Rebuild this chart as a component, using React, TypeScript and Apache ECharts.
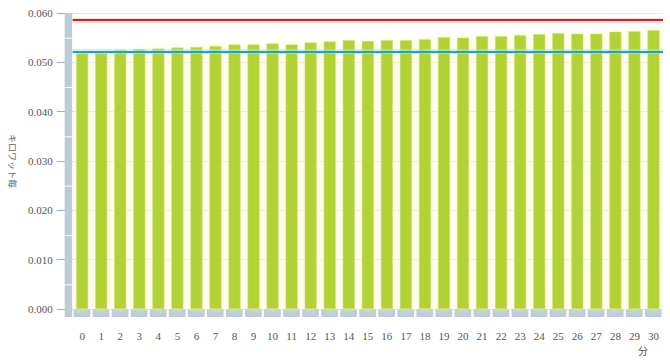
import React, { useEffect, useRef } from "react";
import * as echarts from "echarts";

const categories = Array.from({ length: 31 }, (_, i) => String(i));
const values = [
  0.0519, 0.0519, 0.0525, 0.0527, 0.0528, 0.053, 0.0531, 0.0533, 0.0536, 0.0536,
  0.0538, 0.0536, 0.054, 0.0542, 0.0545, 0.0543, 0.0545, 0.0545, 0.0547, 0.0551,
  0.055, 0.0553, 0.0553, 0.0555, 0.0557, 0.0559, 0.0558, 0.0558, 0.0562, 0.0563, 0.0565,
];
const upperLimit = 0.0586;
const lowerLimit = 0.0522;
const wallBounds = [0.06, 0.055, 0.045, 0.035, 0.025, 0.015, 0.005, 0];
const yName = "キロワット毎";
const xName = "分";

export default function App() {
  const ref = useRef<HTMLDivElement>(null);
  useEffect(() => {
    document.body.style.margin = "0";
    const chart = echarts.init(ref.current!, null, { renderer: "svg" });
    const wallData = wallBounds.slice(0, -1).map((b, i) => [0, b, wallBounds[i + 1], i]);
    const floorData = categories.map((c, i) => [i, 0]);
    chart.setOption({
      animation: false,
      backgroundColor: "#ffffff",
      grid: { left: 63, right: 7, top: 13, bottom: 52, containLabel: false },
      xAxis: {
        type: "category",
        data: categories,
        axisLine: { show: false },
        axisTick: { show: false },
        axisLabel: { color: "#555", fontFamily: "Liberation Serif", fontSize: 11, margin: 21 },
        name: xName,
        nameLocation: "end",
        nameGap: -20,
        nameTextStyle: {
          color: "#555",
          fontFamily: "Noto Sans CJK JP",
          fontSize: 10,
          align: "center",
          verticalAlign: "top",
          padding: [37, 0, 0, 0],
        },
      },
      yAxis: {
        type: "value",
        min: 0,
        max: 0.06,
        interval: 0.01,
        axisLine: { show: false },
        axisTick: { show: true, length: 16, lineStyle: { color: "#aab" } },
        axisLabel: {
          color: "#555",
          fontFamily: "Liberation Serif",
          fontSize: 11,
          margin: 20,
          formatter: (v: number) => v.toFixed(3),
        },
        splitLine: { lineStyle: { color: "#e8e8e8" } },
        name: yName,
        nameLocation: "middle",
        nameRotate: -90,
        nameGap: 55,
        nameTextStyle: { color: "#666", fontFamily: "Noto Sans CJK JP", fontSize: 9 },
      },
      series: [
        {
          type: "custom",
          z: 1,
          clip: false,
          data: floorData,
          renderItem: (params: any, api: any) => {
            const p = api.coord([api.value(0), 0]);
            const s = api.size([1, 0]);
            return {
              type: "rect",
              shape: { x: p[0] - s[0] / 2 + 1, y: p[1], width: s[0] - 2.4, height: 8 },
              style: { fill: "#bccbd8" },
            };
          },
        },
        {
          type: "custom",
          z: 1,
          clip: false,
          data: wallData,
          encode: { x: 0, y: [1, 2] },
          renderItem: (params: any, api: any) => {
            const top = api.coord([0, api.value(1)])[1];
            const bottom = api.coord([0, api.value(2)])[1];
            const last = api.value(3) === wallBounds.length - 2;
            const x0 = params.coordSys.x - 8;
            return {
              type: "rect",
              shape: {
                x: x0,
                y: top + (api.value(3) === 0 ? 0 : 1),
                width: 7.5,
                height: bottom - top + (last ? 8 : 0) - (api.value(3) === 0 ? 0 : 1),
              },
              style: { fill: "#bccbd8" },
            };
          },
        },
        {
          type: "bar",
          z: 2,
          data: values,
          barWidth: 12,
          itemStyle: {
            color: "#b3d235",
            borderColor: "#cfe27a",
            borderWidth: 0.5,
            shadowColor: "rgba(250,250,190,0.9)",
            shadowBlur: 6,
          },
        },
        {
          type: "line",
          z: 5,
          data: [],
          markLine: {
            silent: true,
            precision: 5,
            symbol: ["none", "none"],
            label: { show: false },
            lineStyle: { type: "solid", width: 2 },
            data: [
              { yAxis: upperLimit, lineStyle: { color: "rgba(255,170,170,0.45)", width: 5, type: "solid" } },
              { yAxis: lowerLimit, lineStyle: { color: "rgba(150,235,255,0.55)", width: 5, type: "solid" } },
              { yAxis: upperLimit, lineStyle: { color: "#b5302c", width: 2, type: "solid" } },
              { yAxis: lowerLimit, lineStyle: { color: "#2b9cc8", width: 2, type: "solid" } },
            ],
          },
        },
      ],
    });
    return () => chart.dispose();
  }, []);
  return <div ref={ref} style={{ width: 670, height: 361 }} />;
}
